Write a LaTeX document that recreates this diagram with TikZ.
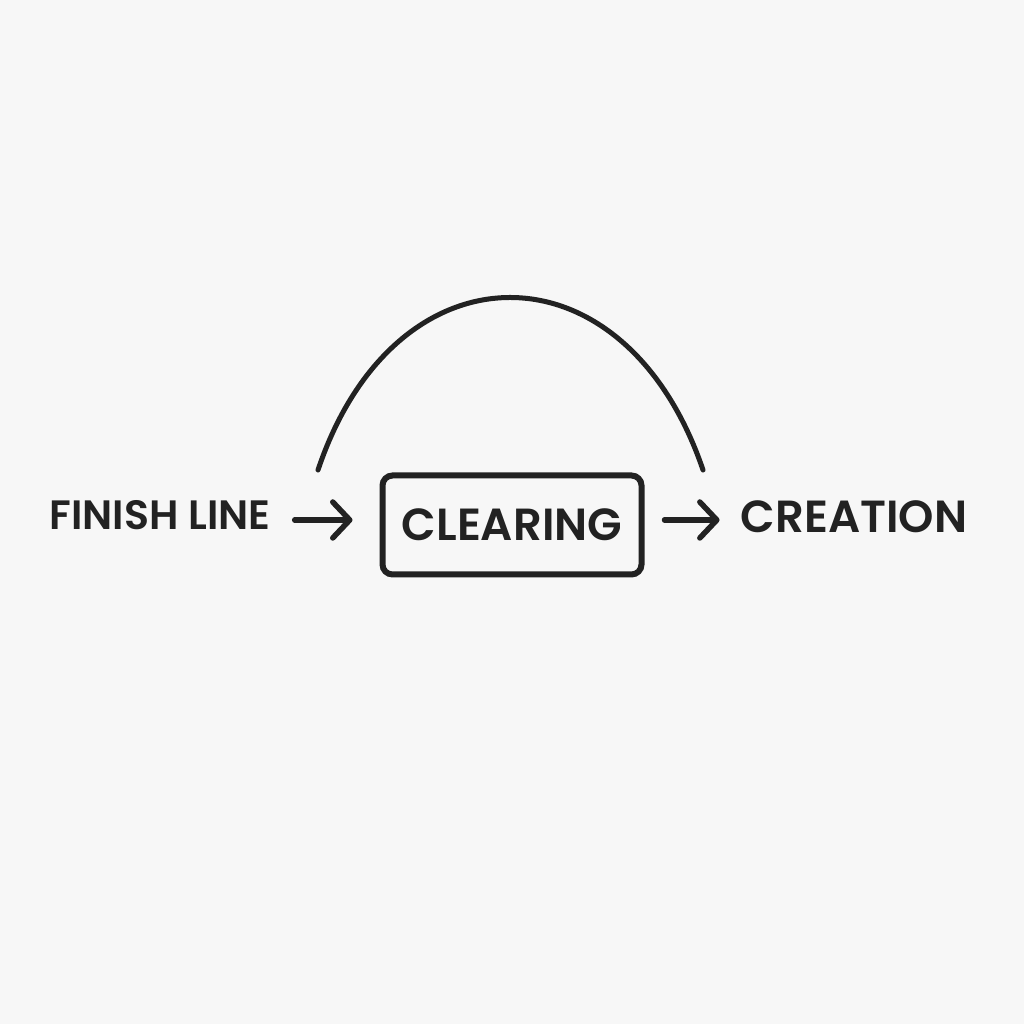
\documentclass[tikz,border=0pt]{standalone}
\usepackage{fontspec}
\setmainfont{Poppins}
\newfontfamily\medfont{Poppins SemiBold}
\usetikzlibrary{arrows.meta}
\definecolor{ink}{HTML}{222222}
\definecolor{paper}{HTML}{F7F7F7}
\begin{document}
\begin{tikzpicture}[x=1pt,y=1pt,
  lbl/.style={text=ink,inner sep=0pt},
  boxnode/.style={draw=ink,line width=6pt,rounded corners=10pt,minimum width=259pt,minimum height=99pt,text=ink,font=\medfont\fontsize{45}{50}\selectfont},
  conn/.style={draw=ink,line width=5.5pt,line cap=round,-{Straight Barb[length=17pt,width=36pt,line cap=round,line join=round]}},
  arcline/.style={draw=ink,line width=5pt,line cap=round}]
\fill[paper] (0,0) rectangle (1024,1024);
\useasboundingbox (0,0) rectangle (1024,1024);
\node[lbl,font=\medfont\fontsize{41}{46}\selectfont] (finish) at (160,1024-515) {FINISH LINE};
\node[boxnode] (clearing) at (512,1024-525) {CLEARING};
\node[lbl,font=\medfont\fontsize{45}{50}\selectfont] (creation) at (854,1024-517) {CREATION};
\coordinate (arcL) at (318,1024-470);
\coordinate (arcR) at (703,1024-470);
\draw[conn,shorten <=24pt,shorten >=27pt] ([yshift=-5pt]finish.east) -- ([yshift=-5pt]finish.east -| clearing.west);
\draw[conn,shorten <=20pt,shorten >=21pt] ([yshift=5pt]clearing.east) -- ([yshift=5pt]clearing.east -| creation.west);
\draw[arcline] (arcL) .. controls (395,1024-240) and (625,1024-240) .. (arcR);
\end{tikzpicture}
\end{document}
